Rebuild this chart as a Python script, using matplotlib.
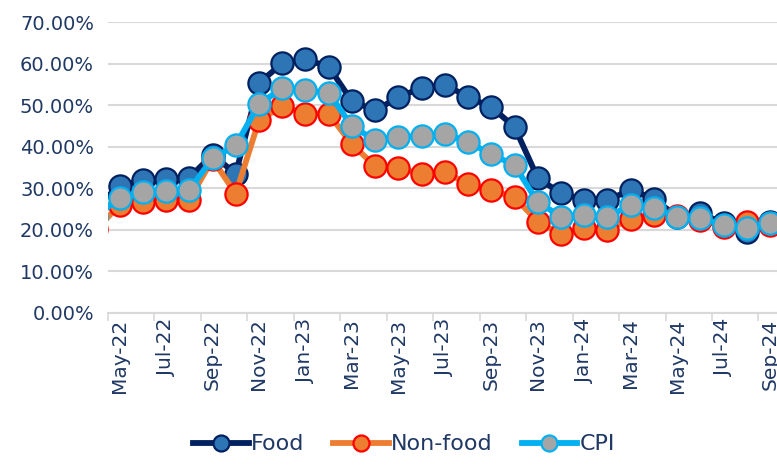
"""Food / Non-food / CPI inflation, monthly line chart."""

import matplotlib
matplotlib.use('Agg')
import matplotlib.pyplot as plt
from matplotlib.ticker import FuncFormatter

# Months (Apr-22 sits just off the left edge of the axis)
months = ['Apr-22', 'May-22', 'Jun-22', 'Jul-22', 'Aug-22', 'Sep-22', 'Oct-22',
          'Nov-22', 'Dec-22', 'Jan-23', 'Feb-23', 'Mar-23', 'Apr-23', 'May-23',
          'Jun-23', 'Jul-23', 'Aug-23', 'Sep-23', 'Oct-23', 'Nov-23', 'Dec-23',
          'Jan-24', 'Feb-24', 'Mar-24', 'Apr-24', 'May-24', 'Jun-24', 'Jul-24',
          'Aug-24', 'Sep-24']

# Year-on-year inflation, percent
food = [25.9, 30.5, 32.1, 32.2, 32.6, 38.1, 33.5, 55.4, 60.1, 61.1, 59.3,
        51.0, 48.8, 51.9, 54.3, 55.0, 52.0, 49.6, 44.8, 32.5, 28.8, 27.3,
        27.1, 29.7, 27.5, 23.2, 24.0, 21.6, 19.5, 21.9]
non_food = [20.1, 26.1, 26.7, 27.1, 27.3, 37.0, 28.7, 46.4, 49.8, 48.0, 48.0,
            40.6, 35.4, 34.8, 33.5, 33.9, 31.1, 29.5, 27.9, 22.0, 18.9, 20.5,
            20.0, 22.7, 23.5, 23.3, 22.5, 20.8, 21.9, 21.1]
cpi = [23.2, 27.8, 29.1, 29.4, 29.7, 37.2, 40.4, 50.3, 54.1, 53.7, 53.0,
       45.0, 41.6, 42.4, 42.6, 43.2, 41.2, 38.2, 35.6, 26.7, 23.2, 23.5,
       23.2, 25.9, 25.3, 23.2, 22.9, 21.1, 20.5, 21.6]

txt_col = '#1F3864'
plt.rcParams['font.family'] = ['DejaVu Sans']

fig = plt.figure(figsize=(7.77, 4.65), dpi=100)
ax = fig.add_axes([0.139, 0.327, 0.861, 0.625])

x = [i - 1 for i in range(len(months))]

series = [
    ('Food', food, '#002060', '#2E75B6', '#002060'),
    ('Non-food', non_food, '#ED7D31', '#ED7D31', '#FF0000'),
    ('CPI', cpi, '#00B0F0', '#A5A5A5', '#00B0F0'),
]
for name, vals, lc, mfc, mec in series:
    ax.plot(x, vals, color=lc, lw=4.2, marker='o', ms=16,
            mfc=mfc, mec=mec, mew=1.6, label=name, zorder=3)

# Limits
ax.set_xlim(-0.5, 28.3)
ax.set_ylim(0, 70)

# Y axis
ax.set_yticks(range(0, 71, 10))
ax.yaxis.set_major_formatter(FuncFormatter(lambda v, p: '%.2f%%' % v))
ax.grid(axis='y', color='#D9D9D9', lw=1.5, zorder=0)
ax.set_axisbelow(True)

# X axis: tick marks on category boundaries, labels every second month
ax.set_xticks([i - 0.5 for i in range(0, 29, 2)])
ax.set_xticklabels([])
ax.set_xticks(range(0, 29, 2), minor=True)
ax.set_xticklabels(months[1::2], minor=True, rotation=90)
ax.tick_params(axis='x', which='major', length=6, width=1.2, color='#D9D9D9',
               direction='out')
ax.tick_params(axis='x', which='minor', length=0, pad=4, labelsize=14.5,
               labelcolor=txt_col)
ax.tick_params(axis='y', length=0, pad=10, labelsize=14, labelcolor=txt_col)

for s in ['top', 'right', 'left']:
    ax.spines[s].set_visible(False)
ax.spines['bottom'].set_color('#D9D9D9')
ax.spines['bottom'].set_linewidth(1.5)

fig.legend(loc='lower center', bbox_to_anchor=(0.52, -0.02), ncol=3,
           frameon=False, fontsize=16, labelcolor=txt_col, handlelength=2.5,
           handletextpad=0.1, columnspacing=1.3, markerscale=0.72)

fig.savefig('out.png', dpi=100)
